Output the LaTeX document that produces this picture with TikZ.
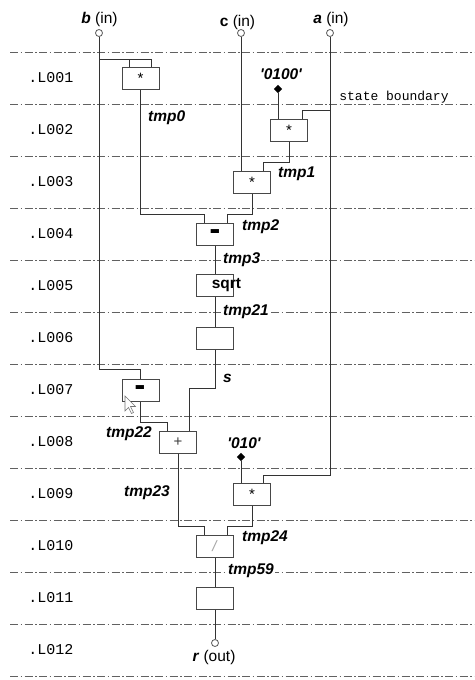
\documentclass[tikz,border=0pt]{standalone}
\usepackage{fontspec}
\setmainfont{Liberation Sans}
\newfontfamily\monofont{Liberation Mono}
\usetikzlibrary{calc,shapes.geometric}
\begin{document}
\begin{tikzpicture}[x=1pt,y=-1pt,
  wire/.style={draw=black!80,line width=1pt},
  opbox/.style={draw=black!72,fill=white,line width=1pt,minimum width=37pt,
    minimum height=22pt,inner sep=0pt,font=\fontsize{15}{15}\selectfont},
  boundary/.style={draw=black!62,line width=0.9pt,
    dash pattern=on 8pt off 2.5pt on 1.5pt off 2.5pt},
  lvl/.style={font=\monofont\fontsize{15}{15}\selectfont,inner sep=0pt},
  var/.style={font=\bfseries\itshape\fontsize{15.5}{15.5}\selectfont,inner sep=0pt,anchor=west},
  ionote/.style={font=\fontsize{15.5}{15.5}\selectfont,inner sep=0pt},
  port/.style={circle,draw=black!65,fill=white,line width=0.8pt,minimum size=7pt,inner sep=0pt},
  const/.style={diamond,fill=black,minimum size=8.5pt,inner sep=0pt},
  minus/.style={font=\bfseries\fontsize{15}{15}\selectfont},
]
% canvas
\fill[white] (0,0) rectangle (474,680);
\useasboundingbox (0,0) rectangle (474,680);

% control-step boundaries and step names
\foreach \k in {0,...,12}
  \draw[boundary] (10,{52+52*\k}) -- (474,{52+52*\k});
\foreach \k/\t in {1/.L001,2/.L002,3/.L003,4/.L004,5/.L005,6/.L006,
                   7/.L007,8/.L008,9/.L009,10/.L010,11/.L011,12/.L012}
  \node[lvl] (step\k) at (51,{26+52*\k}) {\t};
\node[font=\monofont\fontsize{13}{13}\selectfont,inner sep=0pt] (sb) at (394,97) {state boundary};

% ports
\node[port] (bin) at (99,33) {};
\node[port] (cin) at (241,33) {};
\node[port] (ain) at (330,33) {};
\node[port] (rout) at (215,643) {};
\node[ionote] (lbin) at (99.5,19) {\textbf{\textit{b}} (in)};
\node[ionote] (lcin) at (237.5,22) {\textbf{c} (in)};
\node[ionote] (lain) at (331,19) {\textbf{\textit{a}} (in)};
\node[ionote] (lrout) at (214,657) {\textbf{\textit{r}} (out)};

% constants
\node[const] (k1) at (278,89) {};
\node[var,anchor=center] (k1t) at (281,74) {\textquotesingle0100\textquotesingle};
\node[const] (k2) at (241,457) {};
\node[var,anchor=center] (k2t) at (244,443) {\textquotesingle010\textquotesingle};

% operators
\node[opbox] (m1) at (140.5,78) {\raisebox{-3pt}{*}};
\node[opbox] (m2) at (289,130) {\raisebox{-3pt}{*}};
\node[opbox] (m3) at (252,182) {\raisebox{-3pt}{*}};
\node[opbox] (s1) at (215,234) {};
\node[opbox] (sq) at (215,285.5) {};
\node[opbox] (e6) at (215,338) {};
\node[opbox] (s2) at (140.5,390) {};
\node[opbox] (p8) at (178,442) {\textcolor{black!75}{+}};
\node[opbox] (m9) at (252,494) {\raisebox{-3pt}{*}};
\node[opbox] (d10) at (215,546) {\textcolor{black!35}{\textit{/}}};
\node[opbox] (e11) at (215,598) {};

% wires
\coordinate (m1l) at ($(m1.north)+(-11,-7)$);
\coordinate (m1r) at ($(m1.north)+(11,-7)$);
\draw[wire] (bin.south) |- ($(s2.north)+(0,-9)$) -- (s2.north);
\draw[wire] (m1l -| bin) -- (m1r) -- ++(0,7);
\draw[wire] (m1l) -- ++(0,7);
\draw[wire] (m1.south) |- ($(s1.north)+(-11,-8)$) -- ($(s1.north)+(-11,0)$);

\draw[wire] (k1) -- ($(m2.north)+(-11,0)$);
\coordinate (m2r) at ($(m2.north)+(13,-8)$);
\draw[wire] (ain.south) |- ($(m9.north)+(11,-7)$) -- ($(m9.north)+(11,0)$);
\draw[wire] (m2r -| ain) -- (m2r) -- ++(0,8);
\draw[wire] (m2.south) |- ($(m3.north)+(11,-8)$) -- ($(m3.north)+(11,0)$);
\draw[wire] (cin.south) -- ($(m3.north)+(-11,0)$);
\draw[wire] (m3.south) |- ($(s1.north)+(12,-8)$) -- ($(s1.north)+(12,0)$);

\draw[wire] (s1.south) -- (sq.north);
\draw[wire] (sq.south) -- (e6.north);
\draw[wire] (e6.south) |- ($(p8.north)+(11,-42)$) -- ($(p8.north)+(11,0)$);
\draw[wire] (s2.south) |- ($(p8.north)+(-11,-8)$) -- ($(p8.north)+(-11,0)$);
\draw[wire] (p8.south) |- ($(d10.north)+(-11,-8)$) -- ($(d10.north)+(-11,0)$);
\draw[wire] (k2) -- ($(m9.north)+(-11,0)$);
\draw[wire] (m9.south) |- ($(d10.north)+(12,-8)$) -- ($(d10.north)+(12,0)$);
\draw[wire] (d10.south) -- (e11.north);
\draw[wire] (e11.south) -- (rout.north);

% operator symbols drawn over the boxes
\node[minus] (s1t) at ($(s1.center)+(0,3)$) {\scalebox{1.1}[2.4]{−}};
\node[minus] (s2t) at ($(s2.center)+(0,3)$) {\scalebox{1.1}[2.4]{−}};
\node[font=\bfseries\fontsize{15.5}{15.5}\selectfont,inner sep=0pt] (sqt) at ($(sq.center)+(11.5,0)$) {sqrt};

% value names
\node[var] (v0) at (148,118) {tmp0};
\node[var] (v1) at (278,174) {tmp1};
\node[var] (v2) at (242,227) {tmp2};
\node[var,fill=white,inner xsep=1pt] (v3) at (222,260) {tmp3};
\node[var,fill=white,inner xsep=1pt] (v21) at (222,312) {tmp21};
\node[var] (vs) at (223,378) {s};
\node[var] (v22) at (106,434) {tmp22};
\node[var] (v23) at (124,493) {tmp23};
\node[var] (v24) at (242,538) {tmp24};
\node[var,fill=white,inner xsep=1pt] (v59) at (227,571) {tmp59};

% mouse pointer
\draw[fill=white,draw=black!55,line width=0.6pt,shift={(125,396)}]
  (0,0) -- (0,15) -- (3.5,11.5) -- (6.5,17.5) -- (8.5,16.5) -- (5.5,10.5) -- (10.5,10.5) -- cycle;
\end{tikzpicture}
\end{document}
